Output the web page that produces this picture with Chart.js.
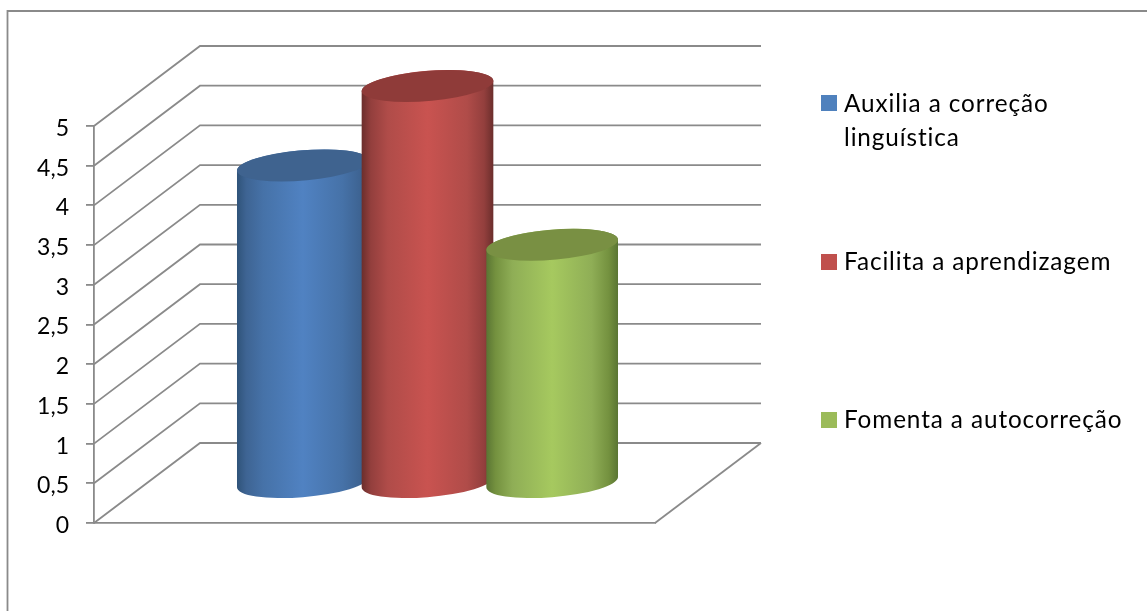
<!DOCTYPE html>
<html lang="pt">
<head>
<meta charset="utf-8">
<title>Gráfico de colunas</title>
<script src="https://cdn.jsdelivr.net/npm/chart.js@4"></script>
<style>
  html, body { margin: 0; background: #fff; }
  canvas { display: block; }
</style>
</head>
<body>
<canvas id="chart" width="1147" height="611"></canvas>
<script>
const categories = [''];
const seriesNames = ['Auxilia a correção linguística', 'Facilita a aprendizagem', 'Fomenta a autocorreção'];
const seriesValues = [4, 5, 3];
const seriesColors = ['#4f81bd', '#c0504d', '#9bbb59'];
const yMin = 0;
const yMax = 5;
const yStep = 0.5;

// sombreado de cada cilindro: borda, meio-tom, centro e tampa
const shades = [
  { edge: '#2f5379', near: '#3e6493', mid: '#4672a8', light: '#5082c2', top: '#3f638f' },
  { edge: '#6b2e2c', near: '#933f3d', mid: '#b04c49', light: '#c95350', top: '#8f3b39' },
  { edge: '#5a7533', near: '#74913f', mid: '#8fae56', light: '#a6c95f', top: '#799043' }
];

const GRID = '#8a8a8a';
const DEPTH = { x: 106, y: -80 };  // deslocamento da parede do fundo
const LEGEND = [
  { lines: ['Auxilia a correção', 'linguística'], box: 95, base: 112 },
  { lines: ['Facilita a aprendizagem'], box: 254, base: 270 },
  { lines: ['Fomenta a autocorreção'], box: 412, base: 428 }
];

function line(ctx, pts) {
  ctx.beginPath();
  pts.forEach((p, i) => i ? ctx.lineTo(p[0], p[1]) : ctx.moveTo(p[0], p[1]));
  ctx.stroke();
}

// moldura, parede do fundo e chão
const wallsPlugin = {
  id: 'walls',
  beforeDatasetsDraw(chart) {
    const { ctx, chartArea: area, scales: { y } } = chart;
    ctx.save();
    ctx.lineWidth = 1.8;
    ctx.strokeStyle = GRID;
    line(ctx, [[7.5, 611], [7.5, 11], [1147, 11]]);
    y.ticks.forEach(t => {
      const py = y.getPixelForValue(t.value);
      line(ctx, [[area.left, py], [area.left + DEPTH.x, py + DEPTH.y], [area.right + DEPTH.x, py + DEPTH.y]]);
    });
    line(ctx, [[area.right, area.bottom], [area.right + DEPTH.x, area.bottom + DEPTH.y]]);
    ctx.restore();
  }
};

// os cilindros ficam no meio da profundidade, em cima das posições das barras
function drawCylinder(ctx, bar, shade) {
  const cx = bar.x + DEPTH.x / 2;
  const topY = bar.y + DEPTH.y / 2;
  const baseY = bar.base + DEPTH.y / 2;
  const a = bar.width / 2;
  const b = DEPTH.x * 0.2;
  const c = -DEPTH.y * 0.2;
  const tilt = Math.atan2(b, a);
  const half = Math.hypot(a, b);

  const grad = ctx.createLinearGradient(cx - half, 0, cx + half, 0);
  grad.addColorStop(0, shade.edge);
  grad.addColorStop(0.07, shade.near);
  grad.addColorStop(0.2, shade.mid);
  grad.addColorStop(0.5, shade.light);
  grad.addColorStop(0.8, shade.mid);
  grad.addColorStop(0.93, shade.near);
  grad.addColorStop(1, shade.edge);

  ctx.save();
  ctx.beginPath();
  ctx.transform(a, 0, b, -c, cx, baseY);
  ctx.arc(0, 0, 1, tilt, tilt - Math.PI, true);
  ctx.setTransform(1, 0, 0, 1, 0, 0);
  ctx.transform(a, 0, b, -c, cx, topY);
  ctx.arc(0, 0, 1, tilt + Math.PI, tilt, true);
  ctx.setTransform(1, 0, 0, 1, 0, 0);
  ctx.closePath();
  ctx.fillStyle = grad;
  ctx.fill();

  ctx.beginPath();
  ctx.transform(a, 0, b, -c, cx, topY);
  ctx.arc(0, 0, 1, 0, Math.PI * 2);
  ctx.setTransform(1, 0, 0, 1, 0, 0);
  ctx.fillStyle = shade.top;
  ctx.fill();
  ctx.restore();
}

const cylindersPlugin = {
  id: 'cylinders',
  beforeDatasetsDraw(chart) {
    chart.data.datasets.forEach((ds, i) => {
      chart.getDatasetMeta(i).data.forEach(bar => drawCylinder(chart.ctx, bar, shades[i]));
    });
    return false;
  }
};

// legenda à direita, com quebra de linha no primeiro item
const sideLegendPlugin = {
  id: 'sideLegend',
  afterDraw(chart) {
    const { ctx } = chart;
    ctx.save();
    ctx.font = '24.3px Lato, sans-serif';
    ctx.letterSpacing = '0.9px';
    ctx.textBaseline = 'alphabetic';
    LEGEND.forEach((item, i) => {
      ctx.fillStyle = chart.data.datasets[i].backgroundColor;
      ctx.fillRect(821, item.box, 16, 16);
      ctx.fillStyle = '#000';
      item.lines.forEach((txt, n) => ctx.fillText(txt, 844, item.base + n * 34));
    });
    ctx.restore();
  }
};

new Chart(document.getElementById('chart'), {
  type: 'bar',
  data: {
    labels: categories,
    datasets: seriesNames.map((name, i) => ({
      label: name,
      data: [seriesValues[i]],
      backgroundColor: seriesColors[i]
    }))
  },
  options: {
    responsive: false,
    animation: false,
    barPercentage: 1,
    categoryPercentage: 2 / 3,
    layout: { padding: { left: 0, right: 492, top: 126, bottom: 88 } },
    plugins: { legend: { display: false }, tooltip: { enabled: false } },
    scales: {
      x: {
        grid: { display: false },
        border: { display: true, color: GRID, width: 1.8 },
        ticks: { display: false },
        afterFit: s => { s.height = 0; }
      },
      y: {
        min: yMin,
        max: yMax,
        grid: { drawOnChartArea: false, drawTicks: true, tickLength: 8, color: GRID, lineWidth: 1.8 },
        border: { display: true, color: GRID, width: 1.8 },
        ticks: {
          stepSize: yStep,
          padding: 17,
          labelOffset: 2.5,
          color: '#000',
          font: { family: 'Lato, sans-serif', size: 23 },
          callback: v => String(v).replace('.', ',')
        },
        afterFit: s => { s.width = 94; }
      }
    }
  },
  plugins: [wallsPlugin, cylindersPlugin, sideLegendPlugin]
});
</script>
</body>
</html>
